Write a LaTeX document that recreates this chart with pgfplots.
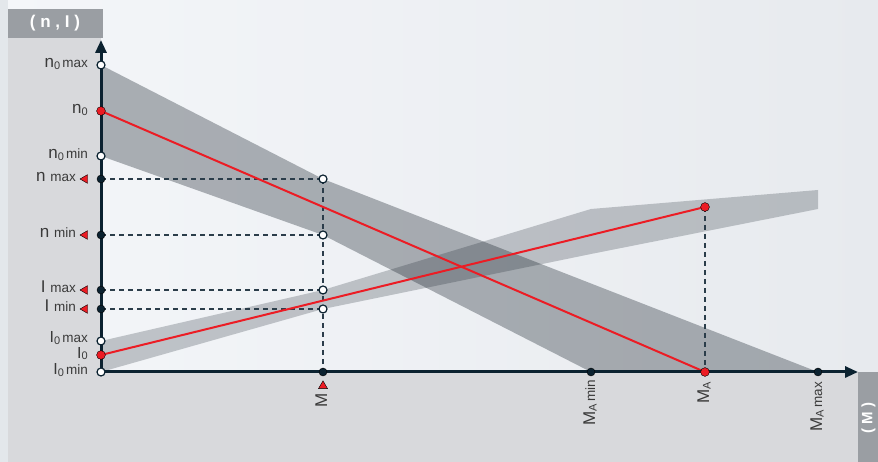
\documentclass[border=0pt]{standalone}
\usepackage{pgfplots}
\pgfplotsset{compat=1.18}
\usepackage{fontspec}
\setmainfont{Liberation Sans}
\usetikzlibrary{arrows.meta}

\definecolor{axisdark}{HTML}{0B2230}
\definecolor{dashc}{HTML}{2B3D4A}
\definecolor{panel}{HTML}{D8D9DC}
\definecolor{strip}{HTML}{E3E7EB}
\definecolor{titlebox}{HTML}{9A9EA3}
\definecolor{bgA}{HTML}{F4F6F9}
\definecolor{bgB}{HTML}{E7EAEE}
\definecolor{slate}{RGB}{20,30,40}
\definecolor{redl}{HTML}{EC1C24}
\definecolor{labtxt}{HTML}{3A3A3A}

% small pieces of the labels
\newcommand{\sub}[1]{\raisebox{-1.4pt}{\fontsize{11}{13}\selectfont #1}}
\newcommand{\sm}[1]{{\fontsize{13.5}{15}\selectfont #1}}

\tikzset{
  lab/.style={font=\fontsize{17}{19}\selectfont, text=labtxt, inner sep=0pt},
  dsh/.style={dashc, line width=1.3pt, dash pattern=on 5pt off 4pt},
}

\begin{document}
\begin{tikzpicture}
\useasboundingbox (0,0) rectangle (878pt,462pt);
\clip (0,0) rectangle (878pt,462pt);
\begin{axis}[
    at={(0,0)}, anchor=south west,
    scale only axis, width=878pt, height=462pt,
    xmin=-101, xmax=777, ymin=-90, ymax=372,
    hide axis, clip=false,
  ]
  % background and panels
  \shade[left color=bgA, right color=bgB] (axis cs:-101,-90) rectangle (axis cs:777,372);
  \fill[strip] (axis cs:-101,-90) rectangle (axis cs:-93,372);
  \fill[panel] (axis cs:-93,-90) rectangle (axis cs:0,334);
  \fill[panel] (axis cs:-93,-90) rectangle (axis cs:757,0);
  \fill[titlebox] (axis cs:-93,334) rectangle (axis cs:2,363);
  \fill[titlebox] (axis cs:757,-90) rectangle (axis cs:777,0);
  \node[font=\fontsize{17}{19}\selectfont\bfseries, text=white] at (axis cs:-46,348.5) {( n , I )};
  \node[font=\fontsize{15}{17}\selectfont\bfseries, text=white, rotate=90] at (axis cs:767.5,-46) {( M )};

  % n band and I band
  \addplot[draw=none, fill=slate, fill opacity=0.33]
    coordinates {(0,307) (222,193) (717,0) (490,0) (222,137) (0,216)} -- cycle;
  \addplot[draw=none, fill=slate, fill opacity=0.23]
    coordinates {(0,31) (222,82) (490,163) (717,182) (717,163) (490,118) (222,63) (0,0)} -- cycle;

  % dashed guide lines
  \addplot[dsh] coordinates {(0,193) (222,193)};
  \addplot[dsh] coordinates {(0,137) (222,137)};
  \addplot[dsh] coordinates {(0,82) (222,82)};
  \addplot[dsh] coordinates {(0,63) (222,63)};
  \addplot[dsh] coordinates {(222,193) (222,0)};
  \addplot[dsh] coordinates {(604,165) (604,0)};

  % nominal lines
  \addplot[redl, line width=2pt] coordinates {(0,261) (604,0)};
  \addplot[redl, line width=2pt] coordinates {(0,17) (604,165)};

  % axes
  \draw[axisdark, line width=3pt, -{Triangle[length=13pt,width=11pt]}] (axis cs:0,0) -- (axis cs:0,332);
  \draw[axisdark, line width=3pt, -{Triangle[length=13pt,width=11pt]}] (axis cs:-1.5,0) -- (axis cs:757,0);

  % points
  \addplot[only marks, mark=*, mark size=4pt, mark options={fill=white, draw=axisdark, line width=1.2pt}]
    coordinates {(0,307) (0,216) (0,31) (0,0) (222,193) (222,137) (222,82) (222,63)};
  \addplot[only marks, mark=*, mark size=4pt, mark options={fill=axisdark, draw=none}]
    coordinates {(0,193) (0,137) (0,82) (0,63) (222,0) (490,0) (717,0)};
  \addplot[only marks, mark=*, mark size=4.4pt, mark options={fill=redl, draw=none}]
    coordinates {(0,261) (0,17) (604,0) (604,165)};
  % red pointers
  \addplot[only marks, mark=triangle*, mark size=5pt, mark options={fill=redl, draw=none, rotate=90}]
    coordinates {(-16,193) (-16,137) (-16,82) (-16,63)};
  \addplot[only marks, mark=triangle*, mark size=5.2pt, mark options={fill=redl, draw=none}]
    coordinates {(222,-14)};

  % y labels
  \node[lab, anchor=mid east] at (axis cs:-13,307) {n\sub{0}\hspace{2pt}\sm{max}};
  \node[lab, anchor=mid east] at (axis cs:-13,261) {n\sub{0}};
  \node[lab, anchor=mid east] at (axis cs:-13,216) {n\sub{0}\hspace{2pt}\sm{min}};
  \node[lab, anchor=mid east] at (axis cs:-25,193) {n \sm{max}};
  \node[lab, anchor=mid east] at (axis cs:-25,137) {n \sm{min}};
  \node[lab, anchor=mid east] at (axis cs:-25,82) {I \sm{max}};
  \node[lab, anchor=mid east] at (axis cs:-25,63) {I \sm{min}};
  \node[lab, anchor=mid east, font=\fontsize{16}{18}\selectfont] at (axis cs:-13,32) {I\sub{0}\hspace{2pt}\sm{max}};
  \node[lab, anchor=mid east, font=\fontsize{16}{18}\selectfont] at (axis cs:-13,16.5) {I\sub{0}};
  \node[lab, anchor=mid east, font=\fontsize{16}{18}\selectfont] at (axis cs:-13,0) {I\sub{0}\hspace{2pt}\sm{min}};

  % x labels
  \node[lab, rotate=90, anchor=mid east] at (axis cs:223.5,-21) {M};
  \node[lab, rotate=90, anchor=mid east] at (axis cs:491.5,-8) {M\sub{A}\hspace{2pt}\sm{min}};
  \node[lab, rotate=90, anchor=mid east] at (axis cs:605.5,-10) {M\sub{A}};
  \node[lab, rotate=90, anchor=mid east] at (axis cs:718.5,-10) {M\sub{A}\hspace{2pt}\sm{max}};
\end{axis}
\end{tikzpicture}
\end{document}
